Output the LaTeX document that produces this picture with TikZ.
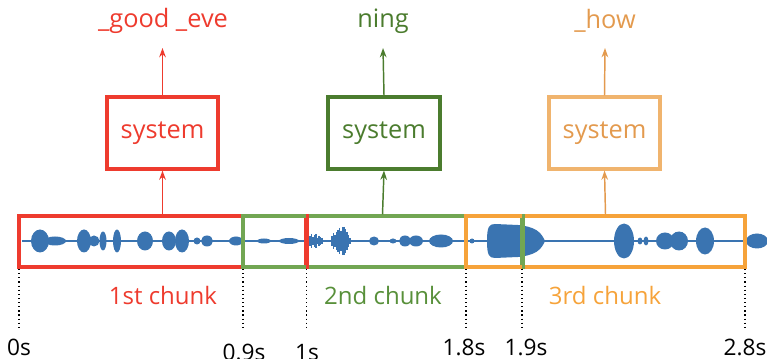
\documentclass[tikz,border=0pt]{standalone}
\usepackage{fontspec}
\setmainfont{Open Sans}
\usetikzlibrary{arrows.meta}
\definecolor{cred}{HTML}{EE3B2E}
\definecolor{cgreenD}{HTML}{4B7C2E}
\definecolor{cgreenL}{HTML}{72A653}
\definecolor{cgreenT}{HTML}{58903A}
\definecolor{corangeL}{HTML}{F0B46E}
\definecolor{corangeT}{HTML}{E39A4E}
\definecolor{corange}{HTML}{F6A33A}
\definecolor{cwave}{HTML}{3A74B1}
\begin{document}
\begin{tikzpicture}[x=0.75pt,y=0.75pt,
  lbl/.style={font=\fontsize{17}{20}\selectfont, inner sep=0pt},
  biglbl/.style={font=\fontsize{19}{22}\selectfont, inner sep=0pt},
  chunklbl/.style={font=\fontsize{18}{21}\selectfont, inner sep=0pt},
  chunkbox/.style={draw, line width=2.3pt, minimum height=51*0.75pt, inner sep=0pt},
  sysbox/.style={draw, line width=2.3pt, minimum height=72*0.75pt, inner sep=0pt, font=\fontsize{19}{22}\selectfont},
  arr/.style={line width=1.1pt, -{Stealth[length=7pt,width=5pt]}},
  tickline/.style={line width=0.9pt, dash pattern=on 0.9pt off 2.2pt},
  wave/.style={fill=cwave},
  spike/.style={draw=cwave, line width=0.8pt}]
\useasboundingbox (0,0) rectangle (767,-359);

% ---------- waveform ----------
\draw[cwave, line width=0.9pt] (22,-241) -- (767,-241);
\foreach \cx/\rx/\ry in {
  40/9/11.5, 55/11/4.5, 84/7/11.5, 94/5.5/5.5, 103/3.5/9.5, 117/4/11.5, 145/8/9.5,
  169/7/9.5, 182/7/11.5, 197/3.5/3.5, 207/6/5.5, 236/7/4.5, 264/7/2.5,
  289/10/3, 343/6/10.5, 374/5/4.5, 393/3.5/2.5, 405/6/5.5, 416/7/5.5, 441/12/6.5, 472/2.5/2.5,
  624/10/17.5, 640/2.5/3.5, 646/2.5/4.5, 665/9/8.5, 679/9/9.5, 705/9/13.5, 757/11/7.5}
  \fill[wave] (\cx,-241) ellipse [x radius=\rx, y radius=\ry];
\foreach \x/\h in {310/5,311.5/7,313/4,314.5/6,316/7,317.5/3,319/5,320.5/4,322/3,
  332/5,333.5/8,335/6,336.5/9,338/11,339.5/13,341/10,342.5/14,344/14,345.5/12,347/9,348.5/6,350/3}
  \draw[spike] (\x,{-241+\h}) -- (\x,{-241-\h});
% big block
\fill[wave] (487,-241) .. controls (487,-227) and (489,-224) .. (495,-224)
  -- (518,-225) .. controls (536,-227) and (541,-232) .. (545,-241)
  .. controls (541,-250) and (536,-255) .. (518,-257)
  -- (495,-258) .. controls (489,-258) and (487,-255) .. (487,-241) -- cycle;

% ---------- chunk boxes ----------
\node[chunkbox, draw=cred, minimum width=287*0.75pt] (c1) at (162.5,-241.5) {};
\node[chunkbox, draw=cgreenL, minimum width=279*0.75pt] (c2) at (382.5,-241.5) {};
\node[chunkbox, draw=corange, minimum width=279*0.75pt] (c3) at (605.5,-241.5) {};
\draw[cred, line width=2.3pt] (c1.north east) -- (c1.south east);
\draw[cgreenL, line width=2.3pt] (c2.north east) -- (c2.south east);

% ---------- systems ----------
\node[sysbox, draw=cred, text=cred, minimum width=111*0.75pt] (s1) at (162.5,-133) {system};
\node[sysbox, draw=cgreenD, text=cgreenD, minimum width=112*0.75pt] (s2) at (384,-133) {system};
\node[sysbox, draw=corangeL, text=corangeT, minimum width=111*0.75pt] (s3) at (604.5,-133) {system};

\node[biglbl, text=cred] (o1) at (163,-21) {\_good \_eve};
\node[biglbl, text=cgreenD] (o2) at (383,-21) {ning};
\node[biglbl, text=corangeT] (o3) at (605,-21) {\_how};
\coordinate (t1) at (162.5,-48);
\coordinate (t2) at (383,-48);
\coordinate (t3) at (605,-48);

\draw[arr, cred] (c1.north) -- (s1.south);
\draw[arr, cred] (s1.north) -- (t1);
\draw[arr, cgreenD] (c2.north) -- (s2.south);
\draw[arr, cgreenD] (s2.north) -- (t2);
\draw[arr, corangeT] (c3.north) -- (s3.south);
\draw[arr, corangeT] (s3.north) -- (t3);

% ---------- chunk labels ----------
\node[chunklbl, text=cred] (l1) at (163,-296) {1st chunk};
\node[chunklbl, text=cgreenT] (l2) at (383,-296) {2nd chunk};
\node[chunklbl, text=corange] (l3) at (605,-296) {3rd chunk};

% ---------- time ticks ----------
\foreach \n/\x in {a/19, b/243, c/306.5, d/466, e/522, f/745} {
  \coordinate (\n top) at (\x,-269);
  \coordinate (\n bot) at (\x,-328);
  \draw[tickline] (\n top) -- (\n bot);
}
\node[lbl, anchor=base] (ta) at (19,-355) {0s};
\node[lbl, anchor=base] (tb) at (244,-361) {0.9s};
\node[lbl, anchor=base] (tc) at (307,-361) {1s};
\node[lbl, anchor=base] (td) at (464,-355) {1.8s};
\node[lbl, anchor=base] (te) at (526,-355) {1.9s};
\node[lbl, anchor=base] (tf) at (745,-355) {2.8s};
\end{tikzpicture}
\end{document}
